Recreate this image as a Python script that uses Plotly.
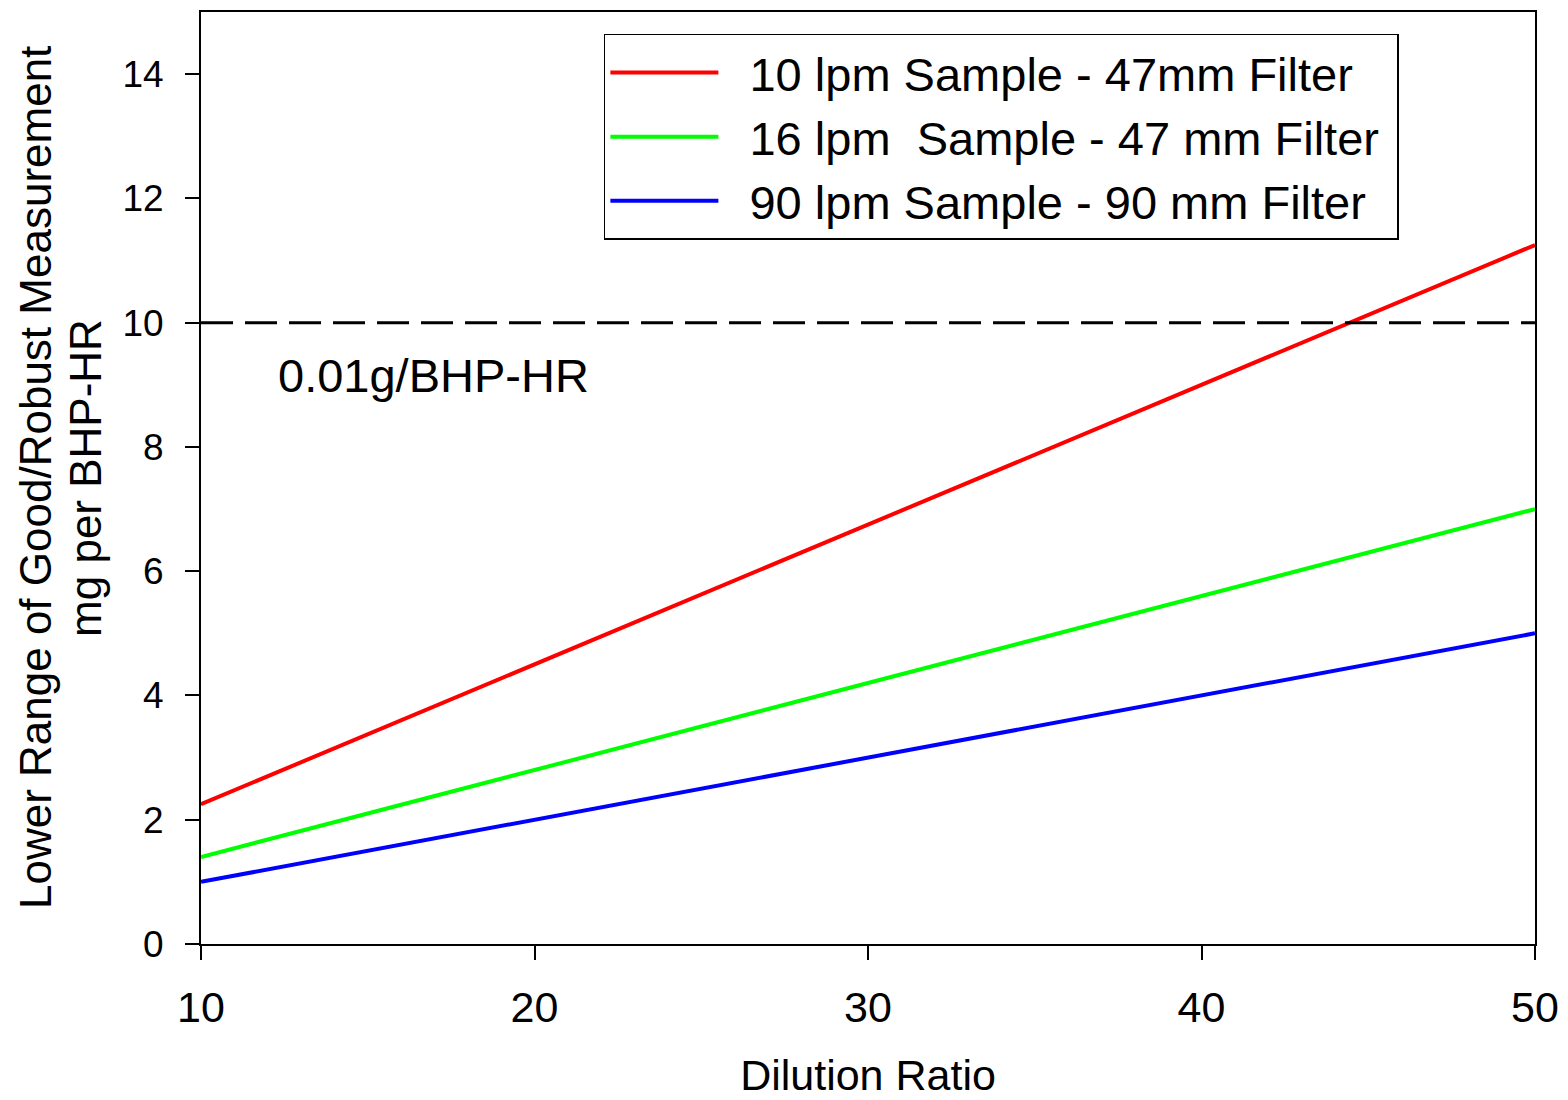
import plotly.graph_objects as go

dilution_ratio = [10, 50]
red_10lpm = [2.25, 11.25]
green_16lpm = [1.4, 7.0]
blue_90lpm = [1.0, 5.0]
limit_value = 10
series_names = ["10 lpm Sample - 47mm Filter", "16 lpm  Sample - 47 mm Filter", "90 lpm Sample - 90 mm Filter"]
series_colors = ["#ff0000", "#00ff00", "#0000ff"]
y_ticks = [0, 2, 4, 6, 8, 10, 12, 14]
x_ticks = [10, 20, 30, 40, 50]
y_title_lines = ["Lower Range of Good/Robust Measurement", "mg per BHP-HR"]

FONT = "Liberation Sans, Arial, sans-serif"
NB = "\u00a0\u00a0"

fig = go.Figure()
for name, vals, col in zip(series_names, [red_10lpm, green_16lpm, blue_90lpm], series_colors):
    fig.add_trace(go.Scatter(x=dilution_ratio, y=vals, mode="lines", name=NB + name + "\u00a0",
                             line=dict(color=col, width=4)))

fig.add_trace(go.Scatter(x=dilution_ratio, y=[limit_value, limit_value], mode="lines",
                         line=dict(color="black", width=3, dash="32px,12px"), showlegend=False))

fig.add_annotation(x=12.25, y=9.15, xref="x", yref="y", text="0.01g/BHP-HR", showarrow=False,
                   xanchor="left", yanchor="middle", font=dict(family=FONT, size=47, color="black"))

# y-axis title, two lines
fig.add_annotation(x=-0.1244, y=0.5, xref="paper", yref="paper", text=y_title_lines[0],
                   showarrow=False, textangle=-90, xanchor="center", yanchor="middle",
                   font=dict(family=FONT, size=44, color="black"))
fig.add_annotation(x=-0.0870, y=0.5, xref="paper", yref="paper", text=y_title_lines[1],
                   showarrow=False, textangle=-90, xanchor="center", yanchor="middle",
                   font=dict(family=FONT, size=44, color="black"))

fig.update_layout(
    width=1568, height=1100,
    margin=dict(l=193, r=41, t=2, b=164),
    paper_bgcolor="white", plot_bgcolor="white",
    font=dict(family=FONT, color="black"),
    legend=dict(x=0.302, y=0.9764, xanchor="left", yanchor="top",
                bordercolor="black", borderwidth=1.5, bgcolor="white",
                font=dict(family=FONT, size=47, color="black"),
                itemwidth=108, tracegroupgap=0),
    showlegend=True,
)
fig.update_xaxes(range=[10, 50], tickvals=x_ticks, ticks="outside", ticklen=14, tickwidth=2,
                 tickcolor="black", showline=True, linecolor="black", linewidth=2, mirror=True,
                 showgrid=False, zeroline=False, ticklabelstandoff=10,
                 tickfont=dict(family=FONT, size=43, color="black"),
                 title=dict(text="Dilution Ratio", font=dict(family=FONT, size=43, color="black"), standoff=30))
fig.update_yaxes(range=[0, 15], tickvals=y_ticks, ticks="outside", ticklen=14, tickwidth=2,
                 tickcolor="black", showline=True, linecolor="black", linewidth=2, mirror=True,
                 showgrid=False, zeroline=False, ticklabelstandoff=14,
                 tickfont=dict(family=FONT, size=37, color="black"))

fig.write_html("out.html")
